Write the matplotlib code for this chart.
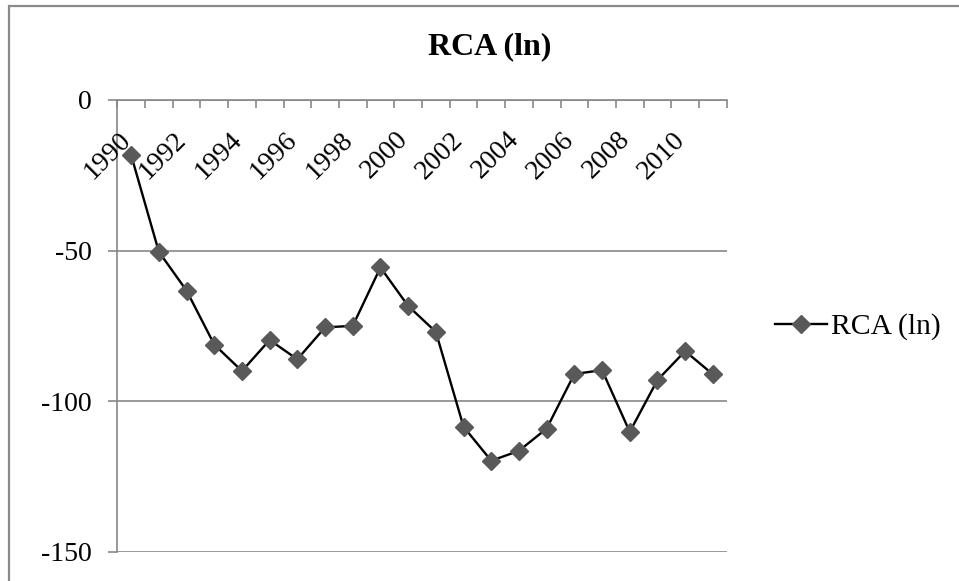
import numpy as np
import matplotlib
matplotlib.use("Agg")
import matplotlib.pyplot as plt
from matplotlib.patches import Rectangle
import matplotlib.transforms as mtransforms

# Data
years = list(range(1990, 2012))
rca_ln = [-18.3, -50.4, -63.3, -81.2, -90.0, -79.7, -86.1, -75.5, -75.0, -55.6,
          -68.4, -77.0, -108.5, -119.8, -116.5, -109.1, -91.0, -89.7, -110.2,
          -93.0, -83.4, -91.1]
y_ticks = [0, -50, -100, -150]
series_name = "RCA (ln)"
title = "RCA (ln)"

plt.rcParams['font.family'] = ['Liberation Serif', 'DejaVu Serif']

W, H = 959, 581
fig = plt.figure(figsize=(W / 100, H / 100), dpi=100)
fig.patch.set_facecolor("white")

grey = "#878787"

# Chart-area border (runs past the right and bottom edges)
fig.patches.append(Rectangle((9 / W, -0.2), 1.5, 1.2 - 6 / H, transform=fig.transFigure,
                             fill=False, edgecolor="#8a8a8a", linewidth=1.6,
                             zorder=0))

ax = fig.add_axes([117.3 / W, 1 - 551.7 / H, (726.7 - 117.3) / W, (551.7 - 100) / H])

n = len(years)
x = np.arange(n)
ax.plot(x, rca_ln, color="black", linewidth=1.7, marker="D", markersize=9,
        markerfacecolor="#595959", markeredgecolor="#595959", zorder=3,
        label=series_name)

ax.set_xlim(-0.5, n - 0.5)
ax.set_ylim(-150, 0)

# Gridlines / axes styling
ax.set_yticks(y_ticks)
ax.set_yticklabels([str(v) for v in y_ticks], fontsize=20)
ax.yaxis.grid(True, color=grey, linewidth=1.2)
ax.set_axisbelow(True)
ax.tick_params(axis="y", direction="out", length=6.5, width=1.2, color=grey, pad=12)

ax.spines["right"].set_visible(False)
ax.spines["bottom"].set_visible(False)
for s in ("top", "left"):
    ax.spines[s].set_color(grey)
    ax.spines[s].set_linewidth(1.2)

# Category axis along y = 0 at the top, tick marks between categories
ax.xaxis.set_ticks_position("top")
ax.set_xticks(np.arange(n + 1) - 0.5)
ax.set_xticklabels([])
ax.tick_params(axis="x", direction="in", length=6, width=1.2, color=grey)

# Year labels for every other category, rotated 45 degrees beneath the axis line
offset = mtransforms.offset_copy(ax.get_xaxis_transform(), fig=fig,
                                 x=5, y=-27, units="dots")
for i, yr in enumerate(years):
    if i % 2 == 0:
        ax.text(x[i], 1.0, str(yr), transform=offset, rotation=45,
                ha="right", va="top", fontsize=20)

# Title
fig.text(490 / W, 1 - 46.5 / H, title, ha="center", va="center",
         fontsize=23, fontweight="bold")

# Legend
leg = ax.legend(loc="center left", bbox_to_anchor=(775 / W, 1 - 326.7 / H),
                bbox_transform=fig.transFigure, frameon=False, fontsize=21.4,
                handlelength=1.75, handletextpad=0.15, borderpad=0,
                borderaxespad=0)

fig.savefig("out.png", dpi=100, facecolor="white")
